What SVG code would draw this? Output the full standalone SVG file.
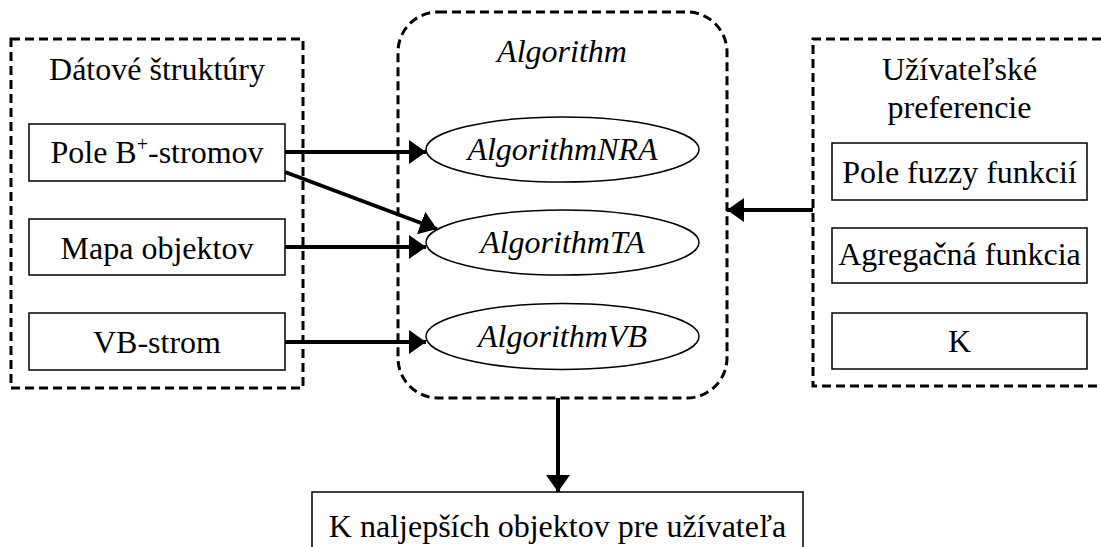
<svg xmlns="http://www.w3.org/2000/svg" width="1101" height="547" viewBox="0 0 1101 547">
  <style>
    .group { fill: none; stroke: #000; stroke-width: 3; stroke-dasharray: 9 5; }
    .box { fill: #fff; stroke: #000; stroke-width: 1.5; }
    .ell { fill: #fff; stroke: #000; stroke-width: 1.5; }
    .conn { fill: none; stroke: #000; stroke-width: 4; marker-end: url(#arrow); }
  </style>
  <defs>
    <marker id="arrow" markerUnits="userSpaceOnUse" markerWidth="18" markerHeight="26" refX="17" refY="12" orient="auto">
      <path d="M0,0 L17,12 L0,24 z" fill="#000"/>
    </marker>
  </defs>

  <rect width="1101" height="547" fill="#fff"/>

  <!-- Data structures group -->
  <g id="data-structures">
    <rect class="group" x="11" y="39" width="292" height="349"/>
    <text font-family="Liberation Serif" font-size="32" text-anchor="middle" x="157" y="80">Dátové štruktúry</text>
  </g>
  <g id="pole-bstromov">
    <rect class="box" x="29" y="124" width="256" height="57"/>
    <text font-family="Liberation Serif" font-size="32" text-anchor="middle" x="157" y="163">Pole B<tspan font-size="20" dy="-12">+</tspan><tspan dy="12">-stromov</tspan></text>
  </g>
  <g id="mapa-objektov">
    <rect class="box" x="29" y="219" width="256" height="56"/>
    <text font-family="Liberation Serif" font-size="32" text-anchor="middle" x="157" y="259">Mapa objektov</text>
  </g>
  <g id="vb-strom">
    <rect class="box" x="29" y="313" width="256" height="57"/>
    <text font-family="Liberation Serif" font-size="32" text-anchor="middle" x="157" y="353">VB-strom</text>
  </g>

  <!-- Algorithm group -->
  <g id="algorithm">
    <rect class="group" x="398" y="12" width="329" height="386" rx="40" ry="40"/>
    <text font-family="Liberation Serif" font-size="32" font-style="italic" text-anchor="middle" x="562" y="62">Algorithm</text>
  </g>
  <g id="algorithm-nra">
    <ellipse class="ell" cx="562.5" cy="149.5" rx="136.5" ry="32.5"/>
    <text font-family="Liberation Serif" font-size="32" font-style="italic" text-anchor="middle" x="562.5" y="160">AlgorithmNRA</text>
  </g>
  <g id="algorithm-ta">
    <ellipse class="ell" cx="562.5" cy="242.5" rx="136.5" ry="32.5"/>
    <text font-family="Liberation Serif" font-size="32" font-style="italic" text-anchor="middle" x="562.5" y="253">AlgorithmTA</text>
  </g>
  <g id="algorithm-vb">
    <ellipse class="ell" cx="562.5" cy="336.5" rx="136.5" ry="33"/>
    <text font-family="Liberation Serif" font-size="32" font-style="italic" text-anchor="middle" x="562.5" y="347">AlgorithmVB</text>
  </g>

  <!-- User preferences group -->
  <g id="user-preferences">
    <path class="group" d="M1101,39 H813 V386 H1101"/>
    <text font-family="Liberation Serif" font-size="32" text-anchor="middle" x="959.5" y="80">Užívateľské</text>
    <text font-family="Liberation Serif" font-size="32" text-anchor="middle" x="959.5" y="118">preferencie</text>
  </g>
  <g id="pole-fuzzy">
    <rect class="box" x="832" y="143" width="255" height="57"/>
    <text font-family="Liberation Serif" font-size="32" text-anchor="middle" x="959.5" y="183">Pole fuzzy funkcií</text>
  </g>
  <g id="agregacna">
    <rect class="box" x="832" y="228" width="255" height="55"/>
    <text font-family="Liberation Serif" font-size="32" text-anchor="middle" x="959.5" y="265">Agregačná funkcia</text>
  </g>
  <g id="k">
    <rect class="box" x="832" y="313" width="255" height="56"/>
    <text font-family="Liberation Serif" font-size="32" text-anchor="middle" x="959.5" y="352">K</text>
  </g>

  <!-- Result -->
  <g id="result">
    <rect class="box" x="312" y="492" width="491" height="70"/>
    <text font-family="Liberation Serif" font-size="32" text-anchor="middle" x="557.5" y="537">K naljepších objektov pre užívateľa</text>
  </g>

  <!-- Connectors -->
  <g id="connectors">
    <line class="conn" x1="285" y1="152" x2="426" y2="152"/>
    <line class="conn" x1="285" y1="172" x2="437" y2="229"/>
    <line class="conn" x1="285" y1="247" x2="426" y2="247"/>
    <line class="conn" x1="285" y1="342" x2="426" y2="342"/>
    <line class="conn" x1="813" y1="210" x2="727" y2="210"/>
    <line class="conn" x1="558" y1="398" x2="558" y2="492"/>
  </g>
</svg>
